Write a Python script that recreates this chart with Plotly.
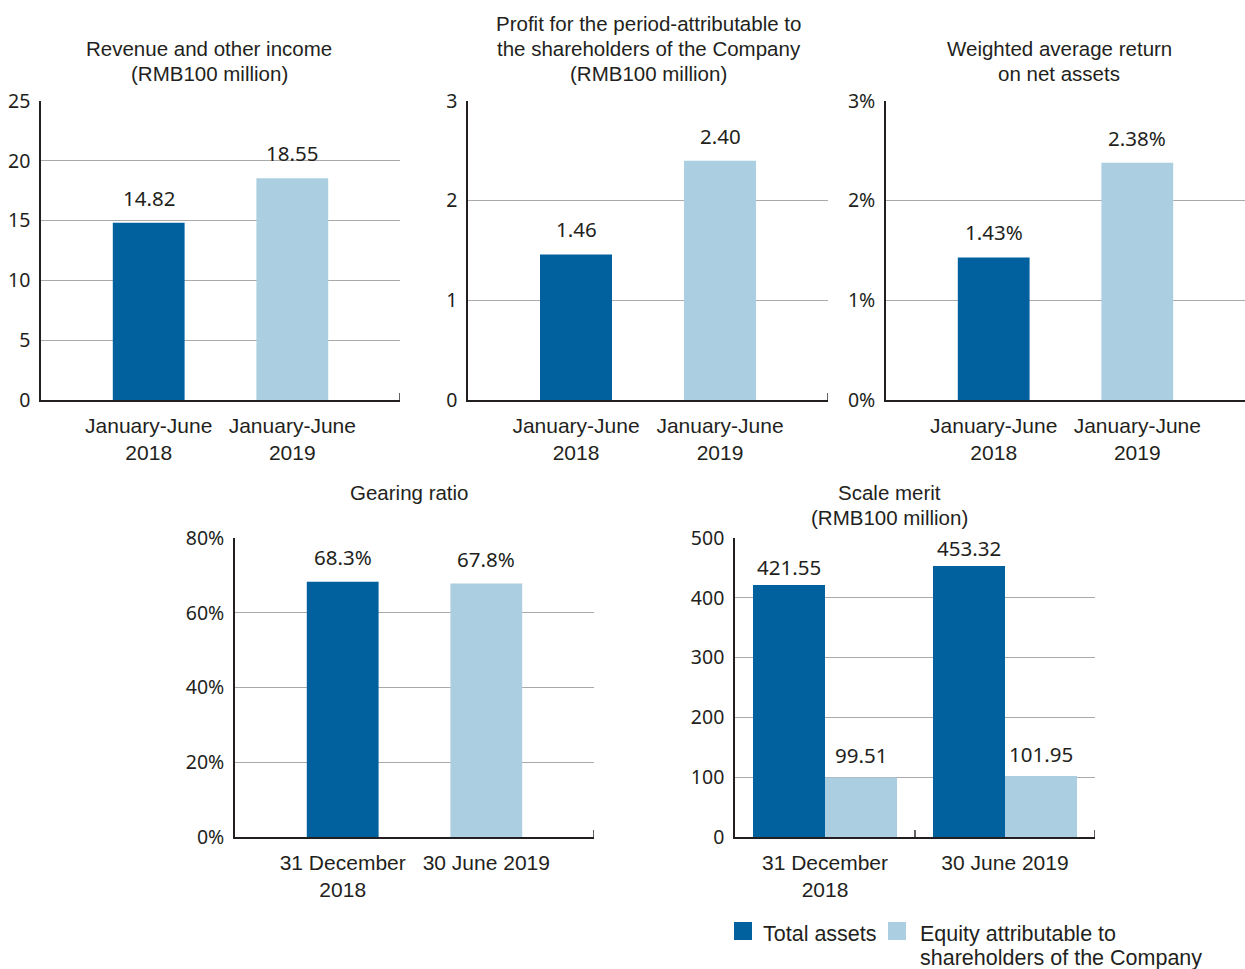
import plotly.graph_objects as go

W, H = 1245, 969
DARK = "#01609e"
LIGHT = "#acceE1".lower()
TXT = "#231f20"
GRID = "#aaaaaa"
NUMFONT = "Noto Sans"
LBLFONT = "Liberation Sans"

# ---- data ----
rev_cats = ["January-June 2018", "January-June 2019"]
rev_vals = [14.82, 18.55]
rev_ticks = [0, 5, 10, 15, 20, 25]

profit_cats = ["January-June 2018", "January-June 2019"]
profit_vals = [1.46, 2.40]
profit_ticks = [0, 1, 2, 3]

roe_cats = ["January-June 2018", "January-June 2019"]
roe_vals = [1.43, 2.38]
roe_ticks = [0, 1, 2, 3]

gear_cats = ["31 December 2018", "30 June 2019"]
gear_vals = [68.3, 67.8]
gear_ticks = [0, 20, 40, 60, 80]

scale_cats = ["31 December 2018", "30 June 2019"]
total_assets = [421.55, 453.32]
equity = [99.51, 101.95]
scale_ticks = [0, 100, 200, 300, 400, 500]

cat_labels = {
    "January-June 2018": "January-June<br>2018",
    "January-June 2019": "January-June<br>2019",
    "31 December 2018": "31 December<br>2018",
    "30 June 2019": "30 June 2019",
}

def px_x(p):
    return p / W

def px_y(p):
    return 1 - p / H

fig = go.Figure()

panels = [
    dict(n="", x0=41, x1=400, yt=101, yb=400, cats=rev_cats, ticks=rev_ticks, suf="", xr=[-0.75, 1.75],
         title=["Revenue and other income", "(RMB100 million)"], tx=209, ty=[49, 74], ends=[1.75]),
    dict(n="2", x0=468, x1=828, yt=101, yb=400, cats=profit_cats, ticks=profit_ticks, suf="", xr=[-0.75, 1.75],
         title=["Profit for the period-attributable to", "the shareholders of the Company", "(RMB100 million)"],
         tx=649, ty=[23, 48, 74], ends=[1.75]),
    dict(n="3", x0=886, x1=1245, yt=101, yb=400, cats=roe_cats, ticks=roe_ticks, suf="%", xr=[-0.75, 1.75],
         title=["Weighted average return", "on net assets"], tx=1059, ty=[49, 74], ends=[]),
    dict(n="4", x0=235, x1=594, yt=538, yb=837, cats=gear_cats, ticks=gear_ticks, suf="%", xr=[-0.75, 1.75],
         title=["Gearing ratio"], tx=409, ty=[492], ends=[1.75]),
    dict(n="5", x0=735, x1=1095, yt=538, yb=837, cats=scale_cats, ticks=scale_ticks, suf="", xr=[-0.5, 1.5],
         title=["Scale merit", "(RMB100 million)"], tx=889, ty=[492, 517], ends=[0.5, 1.5]),
]

layout_axes = {}
shapes = []
annotations = []

for p in panels:
    n = p["n"]
    xa = "x" + n
    ya = "y" + n
    layout_axes["xaxis" + n] = dict(
        domain=[px_x(p["x0"]), min(1.0, px_x(p["x1"]))],
        anchor=ya,
        type="category",
        categoryorder="array",
        categoryarray=p["cats"],
        range=p["xr"],
        tickvals=p["cats"],
        ticktext=[cat_labels[c] for c in p["cats"]],
        showgrid=False,
        zeroline=False,
        showline=True,
        linecolor=TXT,
        linewidth=1.6,
        ticks="",
        ticklabelstandoff=6,
        automargin=False,
        tickfont=dict(family=LBLFONT, size=21, color=TXT),
        fixedrange=True,
    )
    layout_axes["yaxis" + n] = dict(
        domain=[px_y(p["yb"]), px_y(p["yt"])],
        anchor=xa,
        range=[0, p["ticks"][-1]],
        tickmode="array",
        tickvals=p["ticks"],
        ticktext=[f"{t}{p['suf']}" for t in p["ticks"]],
        showgrid=True,
        gridcolor=GRID,
        gridwidth=1.3,
        zeroline=False,
        showline=True,
        linecolor=TXT,
        linewidth=1.6,
        ticks="",
        ticklabelstandoff=5,
        automargin=False,
        tickfont=dict(family=NUMFONT, size=19.5, color=TXT),
        fixedrange=True,
    )
    for e in p["ends"]:
        shapes.append(dict(type="line", xref=xa, yref=ya + " domain", x0=e, x1=e, y0=0, y1=7 / 299,
                           line=dict(color=TXT, width=1.4)))
    for line, ly in zip(p["title"], p["ty"]):
        annotations.append(dict(xref="paper", yref="paper", x=px_x(p["tx"]), y=px_y(ly),
                                xanchor="center", yanchor="middle", showarrow=False, align="center",
                                text=line, font=dict(family=LBLFONT, size=20.5, color=TXT)))

def single(cats, vals, n, fmt):
    fig.add_trace(go.Bar(x=cats, y=vals, xaxis="x" + n, yaxis="y" + n, width=0.5,
                         marker=dict(color=[DARK, LIGHT], line=dict(width=0)),
                         showlegend=False, hoverinfo="skip"))
    for c, v in zip(cats, vals):
        annotations.append(dict(xref="x" + n, yref="y" + n, x=c, y=v, text=fmt(v), showarrow=False,
                                xanchor="center", yanchor="middle", yshift=25,
                                font=dict(family=NUMFONT, size=20.5, color=TXT)))

single(rev_cats, rev_vals, "", lambda v: f"{v:.2f}")
single(profit_cats, profit_vals, "2", lambda v: f"{v:.2f}")
single(roe_cats, roe_vals, "3", lambda v: f"{v:.2f}%")
single(gear_cats, gear_vals, "4", lambda v: f"{v:.1f}%")

fig.add_trace(go.Bar(x=scale_cats, y=total_assets, xaxis="x5", yaxis="y5", name="Total assets",
                     marker=dict(color=DARK, line=dict(width=0)),
                     showlegend=False, hoverinfo="skip", width=0.4, offset=-0.4))
fig.add_trace(go.Bar(x=scale_cats, y=equity, xaxis="x5", yaxis="y5",
                     name="Equity attributable to shareholders of the Company",
                     marker=dict(color=LIGHT, line=dict(width=0)),
                     showlegend=False, hoverinfo="skip", width=0.4, offset=0.0))
for c, v in zip(scale_cats, total_assets):
    annotations.append(dict(xref="x5", yref="y5", x=c, y=v, text=f"{v:.2f}", showarrow=False,
                            xanchor="center", yanchor="middle", yshift=18, xshift=-36,
                            font=dict(family=NUMFONT, size=20.5, color=TXT)))
for c, v in zip(scale_cats, equity):
    annotations.append(dict(xref="x5", yref="y5", x=c, y=v, text=f"{v:.2f}", showarrow=False,
                            xanchor="center", yanchor="middle", yshift=22, xshift=36,
                            font=dict(family=NUMFONT, size=20.5, color=TXT)))

# legend (manual)
legend_items = [(["Total assets"], DARK, 734, 761),
                (["Equity attributable to", "shareholders of the Company"], LIGHT, 888, 918)]
for lines, col, sx, tx in legend_items:
    shapes.append(dict(type="rect", xref="paper", yref="paper", x0=px_x(sx), x1=px_x(sx + 18),
                       y0=px_y(940), y1=px_y(922), fillcolor=col, line=dict(width=0)))
    for i, line in enumerate(lines):
        annotations.append(dict(xref="paper", yref="paper", x=px_x(tx), y=px_y(934 + 24 * i), text=line,
                                xanchor="left", yanchor="middle", align="left", showarrow=False,
                                font=dict(family=LBLFONT, size=21.5, color=TXT)))

fig.update_layout(
    width=W, height=H,
    margin=dict(l=0, r=0, t=0, b=0, autoexpand=False),
    paper_bgcolor="white", plot_bgcolor="white",
    barmode="overlay",
    showlegend=False,
    shapes=shapes,
    annotations=annotations,
    **layout_axes,
)

fig.write_html("out.html", config={"displayModeBar": False})
